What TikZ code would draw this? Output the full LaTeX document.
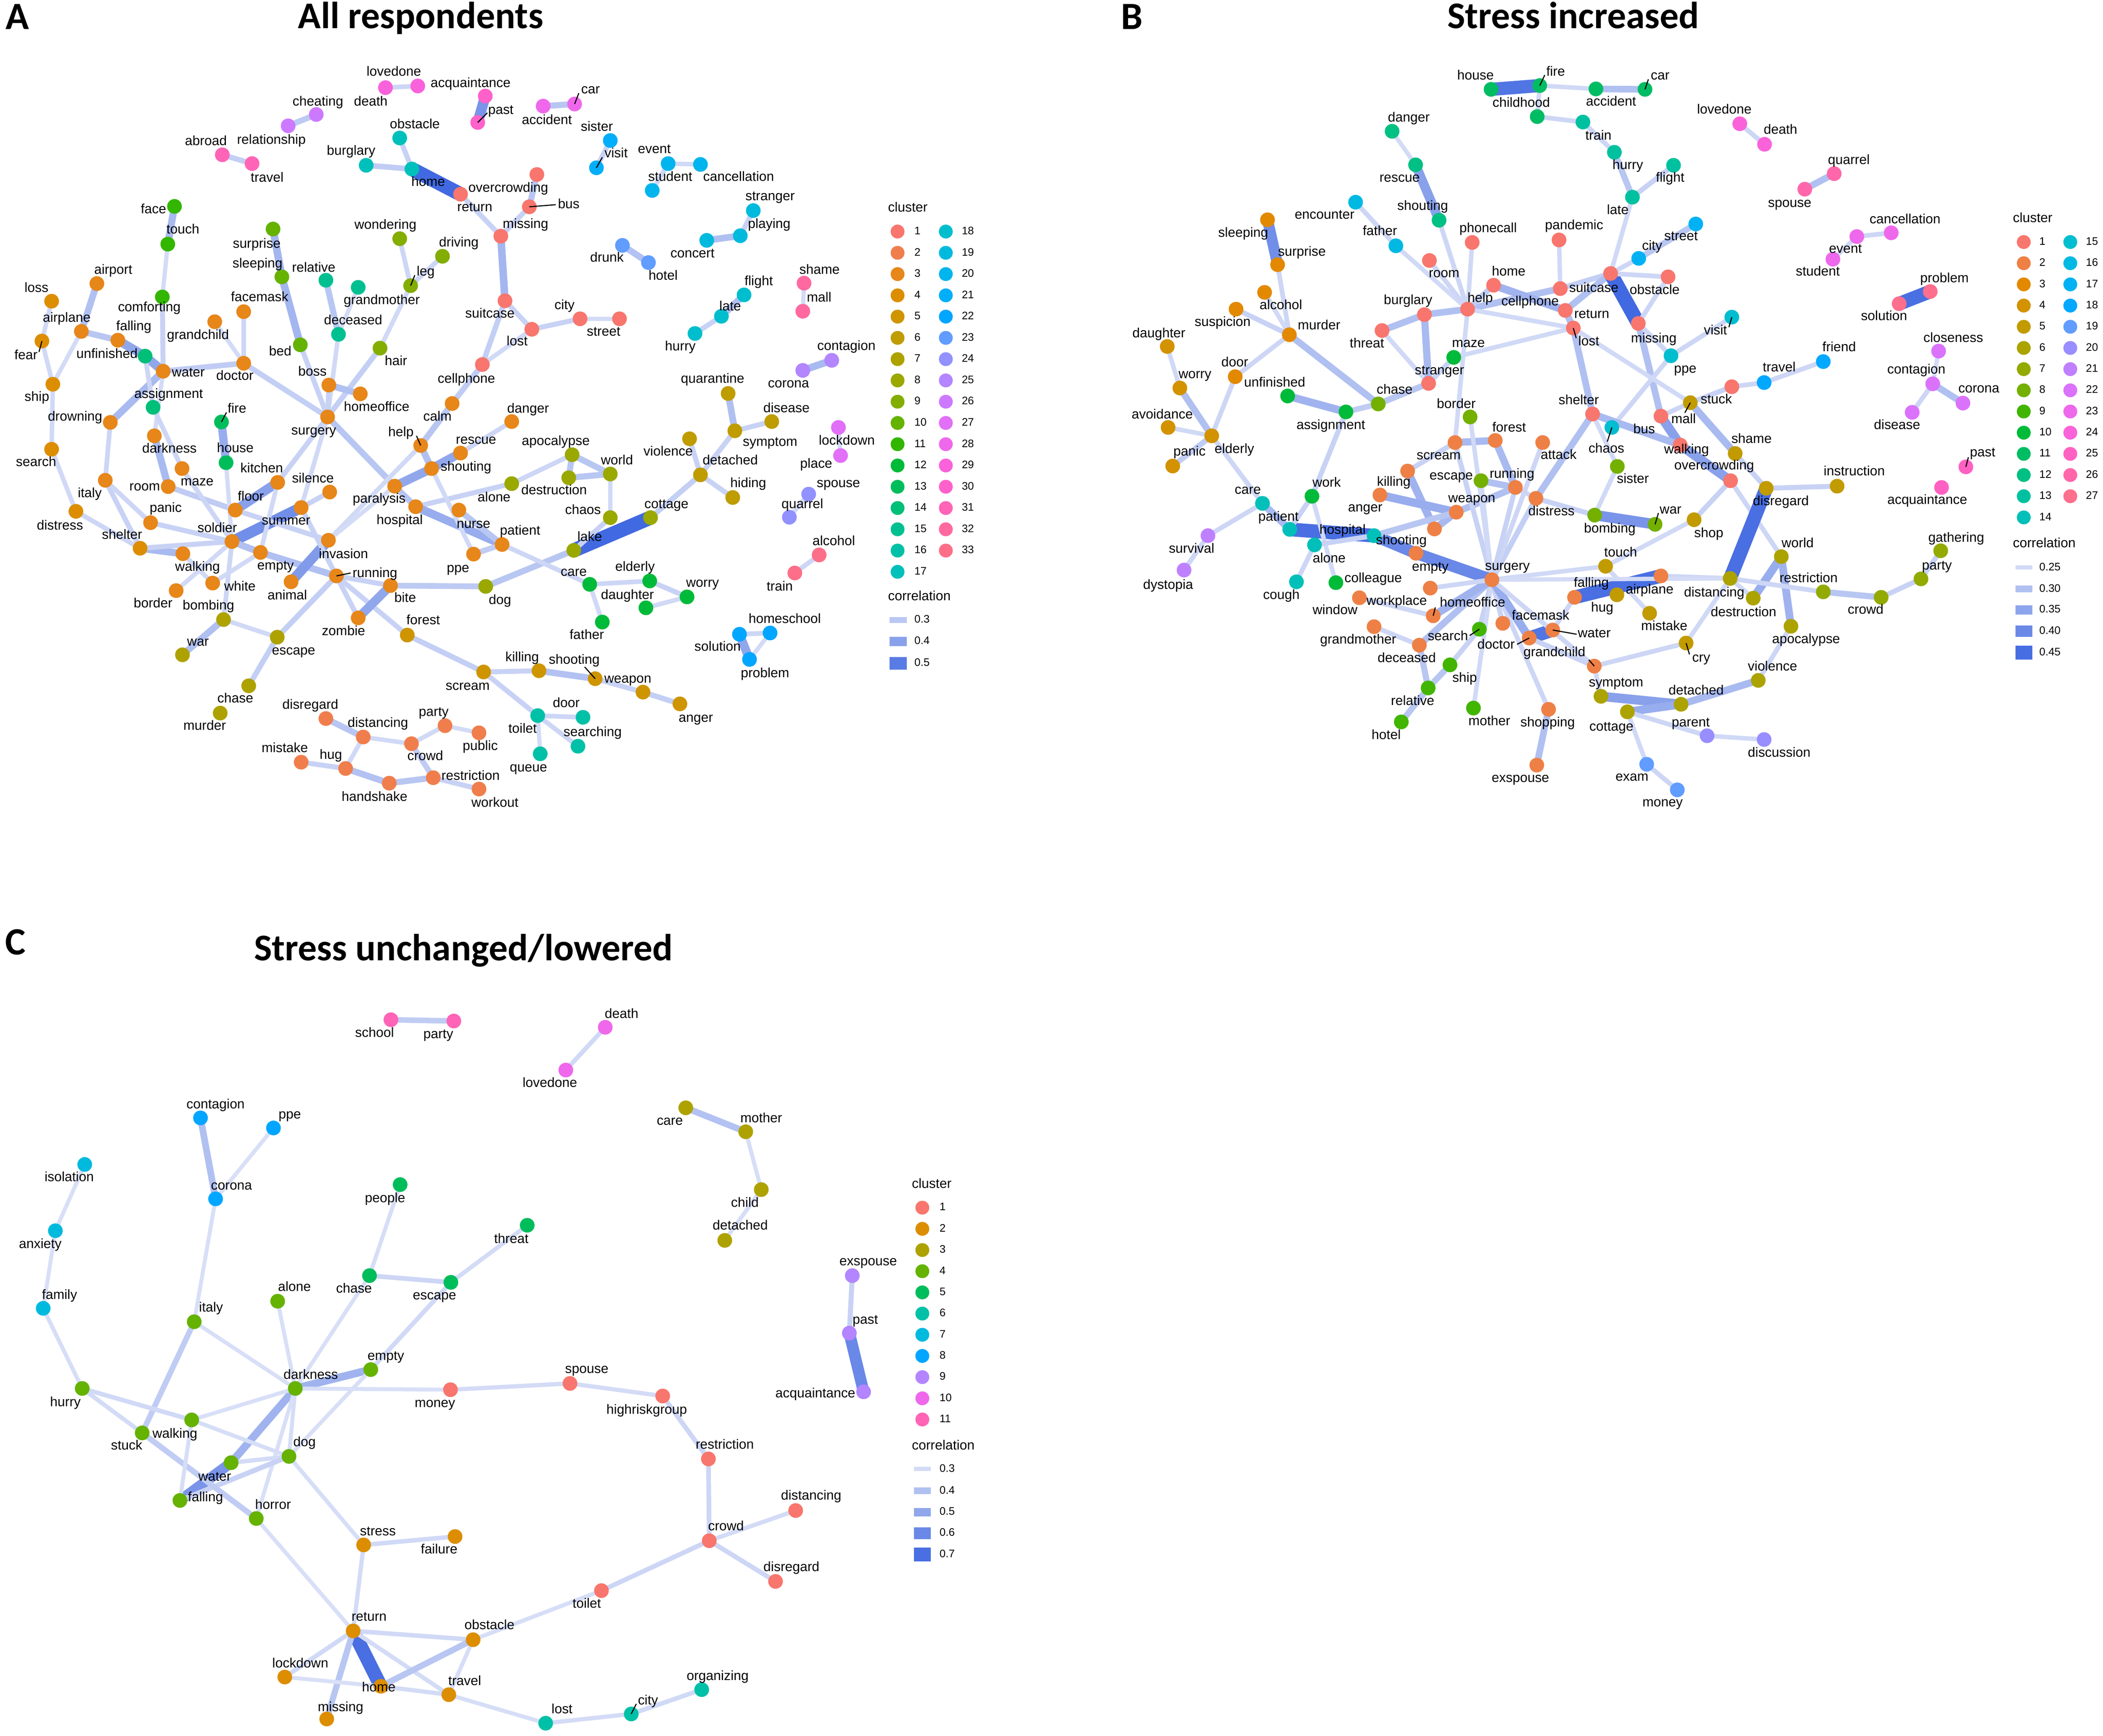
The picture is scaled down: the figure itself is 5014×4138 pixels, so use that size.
\documentclass[tikz,border=0pt]{standalone}
\usepackage{fontspec}
\setmainfont{Liberation Sans}
\newfontfamily\tfont{Carlito}
\pgfdeclarelayer{bg}\pgfsetlayers{bg,main}
\newcommand\gamc[2]{%
 \pgfmathsetmacro\tmpc{max(min(#1,1),0.0002)}%
 \pgfmathsetmacro#2{max(0,min(1,1.055*pow(\tmpc,0.4166667)-0.055))}}
\newcommand\mkhcl[2]{%
 \pgfmathsetmacro\hU{100*cos(#2)}%
 \pgfmathsetmacro\hV{100*sin(#2)}%
 \pgfmathsetmacro\uP{\hU/845+0.19784}%
 \pgfmathsetmacro\vP{\hV/845+0.46834}%
 \pgfmathsetmacro\cX{306.414*\uP/(4*\vP)}%
 \pgfmathsetmacro\cZ{34.046*(12-3*\uP-20*\vP)/(4*\vP)}%
 \pgfmathsetmacro\lR{(3.2404542*\cX-52.3334-0.4985314*\cZ)/100}%
 \pgfmathsetmacro\lG{(-0.969266*\cX+63.8707+0.041556*\cZ)/100}%
 \pgfmathsetmacro\lB{(0.0556434*\cX-6.9463+1.0572252*\cZ)/100}%
 \gamc{\lR}{\sR}\gamc{\lG}{\sG}\gamc{\lB}{\sB}%
 \edef\tmpdef{\noexpand\xglobal\noexpand\definecolor{#1}{rgb}{\sR,\sG,\sB}}\tmpdef}
\foreach \i in {1,...,33}{\mkhcl{A\i}{15+(\i-1)*360/33}}
\foreach \i in {1,...,27}{\mkhcl{B\i}{15+(\i-1)*360/27}}
\foreach \i in {1,...,11}{\mkhcl{C\i}{15+(\i-1)*360/11}}
\definecolor{elow}{HTML}{E0E5F8}
\definecolor{eblue}{HTML}{4169E1}
\tikzset{
 wdot/.style={circle,inner sep=0pt,minimum size=35pt,draw=none},
 lab/.style={inner sep=0pt,font=\fontsize{32}{32}\selectfont,text height=23pt,text depth=7pt},
 legn/.style={inner sep=0pt,anchor=west,font=\fontsize{26}{26}\selectfont,text height=19pt,text depth=5pt},
 ed/.style={draw=eblue!#1!elow,line width={8+0.26*#1}},
 ldr/.style={draw=black,line width=2.6pt},
 ttl/.style={inner sep=0pt,anchor=base,font=\tfont\bfseries\fontsize{90}{90}\selectfont},
 pletter/.style={inner sep=0pt,anchor=base west,font=\tfont\bfseries\fontsize{92}{92}\selectfont}
}
\makeatletter
\def\Labs{}
\newcommand\wa[6]{\node[wdot,fill=A#2] (a#1) at (#3,#4) {};\g@addto@macro\Labs{\node[lab] (a#1l) at (#5,#6) {#1};}}
\newcommand\wb[6]{\node[wdot,fill=B#2] (b#1) at (#3,#4) {};\g@addto@macro\Labs{\node[lab] (b#1l) at (#5,#6) {#1};}}
\newcommand\wc[6]{\node[wdot,fill=C#2] (c#1) at (#3,#4) {};\g@addto@macro\Labs{\node[lab] (c#1l) at (#5,#6) {#1};}}
\makeatother
\newcommand\ea[3]{\draw[ed=#3] (a#1.center) -- (a#2.center);}
\newcommand\eb[3]{\draw[ed=#3] (b#1.center) -- (b#2.center);}
\newcommand\ec[3]{\draw[ed=#3] (c#1.center) -- (c#2.center);}
\newcommand\lda[3]{\coordinate (a#1q) at (#2,#3);\draw[ldr] (a#1q) -- (a#1.center);}
\newcommand\ldb[3]{\coordinate (b#1q) at (#2,#3);\draw[ldr] (b#1q) -- (b#1.center);}
\newcommand\ldc[3]{\coordinate (c#1q) at (#2,#3);\draw[ldr] (c#1q) -- (c#1.center);}
\begin{document}
\begin{tikzpicture}[x=1pt,y=-1pt]
\useasboundingbox (0,0) rectangle (5014,4138);
\begin{pgfonlayer}{bg}\fill[white] (0,0) rectangle (5014,4138);\end{pgfonlayer}
% ---------------- titles
\node[pletter] (letA) at (13,70) {A};
\node[pletter] (letB) at (2673,70) {B};
\node[pletter] (letC) at (12,2276) {C};
\node[ttl] (titA) at (1003,68) {All respondents};
\node[ttl] (titB) at (3751,68) {Stress increased};
\node[ttl] (titC) at (1105,2290) {Stress unchanged/lowered};
% ================= PANEL A nodes
\wa{lovedone}{29}{996}{205}{939}{173}
\wa{death}{29}{919}{209}{884}{244}
\wa{cheating}{26}{754}{273}{758}{244}
\wa{relationship}{26}{687}{300}{647}{335}
\wa{abroad}{31}{530}{369}{491}{338}
\wa{travel}{31}{601}{390}{637}{426}
\wa{obstacle}{17}{953}{329}{989}{298}
\wa{burglary}{17}{873}{394}{837}{362}
\wa{home}{17}{982}{403}{1021}{436}
\wa{acquaintance}{30}{1157}{229}{1122}{200}
\wa{past}{30}{1139}{292}{1194}{264}
\wa{accident}{28}{1295}{253}{1304}{288}
\wa{car}{28}{1370}{248}{1408}{215}
\wa{sister}{21}{1455}{335}{1423}{304}
\wa{visit}{21}{1422}{400}{1469}{368}
\wa{event}{20}{1593}{390}{1560}{358}
\wa{cancellation}{20}{1670}{392}{1761}{424}
\wa{student}{20}{1555}{454}{1598}{424}
\wa{return}{1}{1098}{463}{1132}{496}
\wa{overcrowding}{1}{1280}{416}{1212}{450}
\wa{bus}{1}{1262}{493}{1356}{489}
\wa{missing}{1}{1194}{563}{1253}{536}
\wa{suitcase}{1}{1204}{717}{1168}{750}
\wa{lost}{1}{1268}{785}{1233}{816}
\wa{city}{1}{1383}{760}{1346}{730}
\wa{street}{1}{1477}{760}{1439}{793}
\wa{cellphone}{1}{1150}{869}{1112}{905}
\wa{driving}{9}{1055}{611}{1094}{580}
\wa{stranger}{19}{1796}{502}{1836}{470}
\wa{playing}{19}{1765}{562}{1834}{536}
\wa{concert}{19}{1685}{573}{1651}{606}
\wa{drunk}{23}{1484}{585}{1447}{616}
\wa{hotel}{23}{1546}{626}{1581}{659}
\wa{flight}{18}{1774}{703}{1809}{672}
\wa{late}{18}{1720}{754}{1741}{733}
\wa{hurry}{18}{1657}{795}{1622}{828}
\wa{shame}{32}{1917}{675}{1954}{645}
\wa{mall}{32}{1914}{742}{1953}{711}
\wa{corona}{25}{1914}{883}{1880}{916}
\wa{contagion}{25}{1983}{859}{2018}{827}
\wa{quarantine}{6}{1736}{938}{1699}{905}
\wa{symptom}{6}{1752}{1027}{1836}{1055}
\wa{disease}{6}{1840}{1005}{1875}{975}
\wa{lockdown}{27}{1999}{1019}{2019}{1052}
\wa{place}{27}{2004}{1086}{1946}{1108}
\wa{spouse}{24}{1928}{1178}{1999}{1154}
\wa{quarrel}{24}{1882}{1233}{1913}{1204}
\wa{alcohol}{33}{1953}{1323}{1988}{1292}
\wa{train}{33}{1895}{1366}{1859}{1400}
\wa{danger}{3}{1220}{1005}{1259}{976}
\wa{calm}{3}{1078}{962}{1043}{995}
\wa{rescue}{3}{1098}{1080}{1135}{1050}
\wa{shouting}{3}{1029}{1117}{1111}{1115}
\wa{help}{3}{1003}{1062}{956}{1032}
\wa{apocalypse}{8}{1364}{1084}{1325}{1053}
\wa{world}{8}{1455}{1130}{1471}{1100}
\wa{destruction}{8}{1356}{1139}{1321}{1171}
\wa{alone}{8}{1220}{1153}{1178}{1188}
\wa{nurse}{3}{1094}{1216}{1129}{1251}
\wa{patient}{3}{1197}{1298}{1240}{1267}
\wa{ppe}{3}{1129}{1321}{1092}{1356}
\wa{chaos}{8}{1455}{1234}{1390}{1218}
\wa{lake}{8}{1368}{1312}{1406}{1282}
\wa{cottage}{8}{1551}{1234}{1589}{1204}
\wa{violence}{6}{1644}{1046}{1593}{1079}
\wa{detached}{6}{1670}{1132}{1741}{1100}
\wa{hiding}{6}{1747}{1186}{1784}{1154}
\wa{care}{12}{1406}{1393}{1368}{1365}
\wa{elderly}{12}{1549}{1385}{1514}{1353}
\wa{daughter}{12}{1540}{1449}{1496}{1420}
\wa{worry}{12}{1638}{1423}{1675}{1391}
\wa{father}{12}{1436}{1483}{1399}{1516}
\wa{dog}{8}{1158}{1398}{1192}{1433}
\wa{homeschool}{22}{1836}{1509}{1871}{1478}
\wa{solution}{22}{1763}{1512}{1711}{1544}
\wa{problem}{22}{1787}{1572}{1824}{1607}
\wa{scream}{5}{1153}{1602}{1115}{1637}
\wa{killing}{5}{1285}{1599}{1245}{1569}
\wa{shooting}{5}{1419}{1618}{1369}{1575}
\wa{weapon}{5}{1533}{1650}{1497}{1620}
\wa{anger}{5}{1621}{1678}{1659}{1713}
\wa{toilet}{16}{1282}{1706}{1246}{1739}
\wa{door}{16}{1390}{1710}{1350}{1678}
\wa{searching}{16}{1378}{1779}{1413}{1747}
\wa{queue}{16}{1288}{1797}{1260}{1832}
\wa{party}{2}{1061}{1730}{1034}{1699}
\wa{public}{2}{1142}{1747}{1145}{1780}
\wa{restriction}{2}{1033}{1854}{1122}{1852}
\wa{workout}{2}{1142}{1881}{1180}{1916}
\wa{disregard}{2}{777}{1713}{740}{1682}
\wa{distancing}{2}{866}{1757}{901}{1725}
\wa{crowd}{2}{981}{1773}{1014}{1805}
\wa{mistake}{2}{718}{1817}{679}{1785}
\wa{hug}{2}{824}{1832}{789}{1802}
\wa{handshake}{2}{928}{1867}{893}{1902}
\wa{face}{11}{416}{492}{366}{501}
\wa{touch}{11}{400}{582}{436}{549}
\wa{comforting}{11}{387}{708}{356}{735}
\wa{surprise}{10}{651}{546}{612}{583}
\wa{sleeping}{10}{672}{660}{614}{630}
\wa{bed}{10}{716}{822}{668}{840}
\wa{relative}{15}{777}{668}{748}{640}
\wa{grandmother}{15}{854}{685}{910}{718}
\wa{deceased}{15}{807}{797}{842}{766}
\wa{wondering}{9}{953}{569}{919}{538}
\wa{leg}{9}{979}{681}{1015}{649}
\wa{hair}{9}{906}{830}{944}{863}
\wa{airport}{3}{231}{676}{270}{645}
\wa{loss}{4}{123}{718}{87}{688}
\wa{airplane}{3}{194}{790}{159}{760}
\wa{fear}{4}{100}{813}{62}{849}
\wa{falling}{3}{281}{811}{319}{780}
\wa{unfinished}{14}{346}{849}{255}{846}
\wa{water}{3}{389}{885}{449}{890}
\wa{grandchild}{3}{512}{767}{472}{801}
\wa{facemask}{3}{581}{743}{619}{710}
\wa{doctor}{3}{581}{866}{560}{898}
\wa{ship}{4}{126}{916}{88}{948}
\wa{boss}{3}{784}{918}{745}{888}
\wa{homeoffice}{3}{859}{939}{898}{972}
\wa{assignment}{14}{365}{971}{402}{941}
\wa{drowning}{3}{263}{1007}{179}{995}
\wa{fire}{13}{528}{1006}{565}{976}
\wa{surgery}{3}{781}{994}{748}{1028}
\wa{search}{4}{123}{1071}{86}{1104}
\wa{italy}{3}{251}{1145}{214}{1178}
\wa{distress}{4}{181}{1219}{143}{1255}
\wa{darkness}{3}{368}{1039}{404}{1071}
\wa{maze}{3}{434}{1117}{470}{1150}
\wa{room}{3}{401}{1160}{345}{1162}
\wa{house}{13}{539}{1103}{561}{1070}
\wa{kitchen}{3}{662}{1150}{624}{1119}
\wa{silence}{3}{786}{1173}{746}{1143}
\wa{floor}{3}{561}{1216}{598}{1186}
\wa{summer}{3}{718}{1210}{682}{1243}
\wa{panic}{3}{359}{1246}{395}{1213}
\wa{soldier}{3}{553}{1291}{518}{1261}
\wa{shelter}{4}{334}{1307}{291}{1277}
\wa{walking}{3}{436}{1320}{471}{1353}
\wa{empty}{3}{621}{1317}{657}{1350}
\wa{invasion}{3}{783}{1288}{819}{1323}
\wa{running}{3}{802}{1373}{894}{1368}
\wa{bite}{3}{931}{1396}{966}{1427}
\wa{animal}{3}{694}{1387}{685}{1421}
\wa{white}{3}{507}{1390}{572}{1400}
\wa{border}{3}{420}{1408}{365}{1441}
\wa{zombie}{3}{854}{1473}{819}{1507}
\wa{forest}{5}{971}{1514}{1009}{1481}
\wa{bombing}{7}{533}{1477}{497}{1446}
\wa{war}{7}{435}{1561}{472}{1532}
\wa{escape}{7}{661}{1519}{700}{1553}
\wa{chase}{7}{593}{1635}{561}{1667}
\wa{murder}{7}{525}{1700}{488}{1732}
\wa{paralysis}{3}{941}{1159}{904}{1191}
\wa{hospital}{3}{991}{1208}{953}{1242}
% ---- panel A edges
\begin{pgfonlayer}{bg}
\ea{death}{lovedone}{12}\ea{cheating}{relationship}{22}\ea{abroad}{travel}{18}
\ea{acquaintance}{past}{65}\ea{accident}{car}{25}\ea{sister}{visit}{15}
\ea{event}{cancellation}{10}\ea{event}{student}{12}
\ea{obstacle}{home}{15}\ea{burglary}{home}{20}\ea{home}{return}{100}
\ea{return}{missing}{15}\ea{overcrowding}{bus}{25}\ea{bus}{missing}{15}\ea{missing}{suitcase}{38}
\ea{suitcase}{lost}{15}\ea{lost}{city}{15}\ea{city}{street}{8}\ea{suitcase}{cellphone}{18}
\ea{lost}{cellphone}{10}\ea{cellphone}{calm}{20}
\ea{calm}{help}{25}\ea{help}{shouting}{30}\ea{paralysis}{shouting}{50}\ea{shouting}{rescue}{50}\ea{danger}{rescue}{12}
\ea{driving}{leg}{12}\ea{wondering}{leg}{12}\ea{leg}{hair}{10}\ea{hair}{surgery}{18}
\ea{stranger}{playing}{15}\ea{playing}{concert}{30}\ea{drunk}{hotel}{28}\ea{flight}{late}{30}
\ea{late}{hurry}{15}\ea{shame}{mall}{8}\ea{corona}{contagion}{35}
\ea{quarantine}{symptom}{30}\ea{symptom}{disease}{15}\ea{symptom}{detached}{15}\ea{violence}{detached}{15}
\ea{detached}{hiding}{15}\ea{detached}{cottage}{18}\ea{lockdown}{place}{8}\ea{spouse}{quarrel}{10}\ea{alcohol}{train}{12}
\ea{lake}{cottage}{100}\ea{lake}{chaos}{15}\ea{chaos}{world}{10}\ea{world}{destruction}{25}\ea{world}{apocalypse}{25}
\ea{apocalypse}{destruction}{25}\ea{apocalypse}{alone}{12}\ea{alone}{hospital}{15}\ea{lake}{dog}{25}\ea{dog}{bite}{22}
\ea{hospital}{patient}{45}\ea{nurse}{patient}{25}\ea{ppe}{patient}{20}\ea{patient}{care}{12}\ea{shouting}{ppe}{10}
\ea{surgery}{paralysis}{25}\ea{paralysis}{hospital}{25}
\ea{care}{elderly}{12}\ea{care}{father}{10}\ea{elderly}{worry}{15}\ea{daughter}{worry}{10}
\ea{homeschool}{solution}{12}\ea{solution}{problem}{50}\ea{homeschool}{problem}{8}
\ea{scream}{killing}{15}\ea{killing}{shooting}{28}\ea{shooting}{weapon}{15}\ea{weapon}{anger}{18}
\ea{scream}{toilet}{15}\ea{toilet}{door}{12}\ea{toilet}{searching}{12}\ea{toilet}{queue}{8}
\ea{forest}{scream}{18}\ea{running}{forest}{15}
\ea{disregard}{distancing}{25}\ea{distancing}{crowd}{10}\ea{distancing}{hug}{10}\ea{mistake}{hug}{15}
\ea{hug}{handshake}{28}\ea{handshake}{restriction}{25}\ea{restriction}{crowd}{20}\ea{crowd}{party}{10}
\ea{party}{public}{8}\ea{restriction}{workout}{15}
\ea{face}{touch}{35}\ea{touch}{comforting}{8}\ea{comforting}{water}{15}\ea{airport}{airplane}{30}
\ea{loss}{fear}{10}\ea{airplane}{falling}{25}\ea{falling}{unfinished}{50}\ea{unfinished}{water}{50}
\ea{airplane}{ship}{8}\ea{fear}{ship}{10}\ea{ship}{search}{10}\ea{search}{distress}{10}
\ea{water}{doctor}{20}\ea{doctor}{facemask}{12}\ea{doctor}{grandchild}{8}\ea{doctor}{surgery}{18}
\ea{water}{drowning}{35}\ea{unfinished}{assignment}{12}\ea{water}{darkness}{8}\ea{assignment}{maze}{12}
\ea{surprise}{sleeping}{38}\ea{sleeping}{bed}{38}\ea{relative}{deceased}{25}\ea{grandmother}{deceased}{8}
\ea{deceased}{surgery}{10}\ea{bed}{surgery}{15}\ea{boss}{surgery}{15}\ea{boss}{homeoffice}{30}
\ea{surgery}{kitchen}{15}\ea{surgery}{summer}{10}
\ea{drowning}{italy}{12}\ea{italy}{shelter}{15}\ea{distress}{shelter}{12}\ea{darkness}{room}{35}
\ea{room}{floor}{20}\ea{floor}{kitchen}{55}\ea{maze}{soldier}{12}\ea{italy}{panic}{12}\ea{panic}{soldier}{15}
\ea{shelter}{walking}{35}\ea{shelter}{soldier}{15}\ea{walking}{white}{10}\ea{soldier}{summer}{70}
\ea{summer}{silence}{15}\ea{soldier}{empty}{30}\ea{empty}{running}{30}\ea{soldier}{border}{10}
\ea{soldier}{bombing}{12}\ea{fire}{house}{45}\ea{house}{soldier}{8}
\ea{floor}{invasion}{15}\ea{empty}{white}{10}\ea{kitchen}{empty}{10}\ea{animal}{invasion}{60}
\ea{summer}{running}{15}\ea{invasion}{help}{10}\ea{running}{bite}{15}\ea{running}{zombie}{15}
\ea{bite}{zombie}{50}\ea{running}{escape}{18}\ea{escape}{bombing}{10}\ea{bombing}{war}{30}
\ea{escape}{chase}{18}\ea{invasion}{paralysis}{8}
\end{pgfonlayer}
% ---- panel A legend
\node[lab,anchor=west] (aLegC) at (2117,497) {cluster};
\foreach \i in {1,...,17}{\node[wdot,minimum size=33pt,fill=A\i] (aLeg\i) at (2140,{552+(\i-1)*50.7}) {};
 \node[legn] (aLegT\i) at (2180,{552+(\i-1)*50.7}) {\i};}
\foreach \i in {18,...,33}{\node[wdot,minimum size=33pt,fill=A\i] (aLeg\i) at (2255,{552+(\i-18)*50.7}) {};
 \node[legn] (aLegT\i) at (2293,{552+(\i-18)*50.7}) {\i};}
\node[lab,anchor=west] (aLegR) at (2117,1423) {correlation};
\draw[ed=24] (2121,1478) -- (2162,1478); \node[legn] (aLegR1) at (2180,1478) {0.3};
\draw[ed=55] (2121,1529) -- (2162,1529); \node[legn] (aLegR2) at (2180,1529) {0.4};
\draw[ed=85] (2121,1581) -- (2162,1581); \node[legn] (aLegR3) at (2180,1581) {0.5};
% ================= PANEL B nodes
\wb{house}{11}{3555}{213}{3518}{182}
\wb{fire}{11}{3671}{204}{3709}{173}
\wb{childhood}{11}{3665}{278}{3627}{247}
\wb{accident}{11}{3805}{212}{3841}{244}
\wb{car}{11}{3922}{213}{3958}{182}
\wb{train}{13}{3774}{291}{3811}{325}
\wb{hurry}{13}{3849}{363}{3881}{396}
\wb{flight}{13}{3990}{394}{3982}{426}
\wb{late}{13}{3892}{470}{3857}{503}
\wb{lovedone}{24}{4148}{295}{4111}{263}
\wb{death}{24}{4207}{344}{4245}{311}
\wb{quarrel}{26}{4373}{414}{4408}{384}
\wb{spouse}{26}{4303}{451}{4267}{486}
\wb{cancellation}{23}{4509}{555}{4542}{525}
\wb{event}{23}{4427}{564}{4400}{595}
\wb{student}{23}{4370}{618}{4334}{649}
\wb{problem}{27}{4602}{695}{4636}{665}
\wb{solution}{27}{4528}{724}{4492}{756}
\wb{closeness}{22}{4622}{837}{4657}{808}
\wb{contagion}{22}{4608}{915}{4569}{883}
\wb{corona}{22}{4680}{961}{4718}{928}
\wb{disease}{22}{4559}{983}{4523}{1015}
\wb{danger}{12}{3319}{313}{3359}{282}
\wb{rescue}{12}{3375}{393}{3337}{426}
\wb{shouting}{12}{3431}{525}{3392}{493}
\wb{encounter}{16}{3232}{482}{3158}{514}
\wb{father}{16}{3328}{586}{3290}{553}
\wb{sleeping}{3}{3022}{524}{2964}{557}
\wb{surprise}{3}{3046}{631}{3104}{602}
\wb{alcohol}{3}{3015}{697}{3054}{730}
\wb{suspicion}{3}{2947}{737}{2915}{770}
\wb{murder}{3}{3074}{798}{3145}{778}
\wb{daughter}{4}{2783}{826}{2763}{797}
\wb{door}{3}{2945}{898}{2944}{866}
\wb{worry}{4}{2813}{925}{2849}{894}
\wb{unfinished}{10}{3070}{944}{3039}{914}
\wb{assignment}{10}{3209}{982}{3173}{1015}
\wb{chase}{8}{3286}{963}{3325}{931}
\wb{avoidance}{4}{2785}{1019}{2771}{990}
\wb{stranger}{1}{3406}{914}{3432}{885}
\wb{maze}{10}{3466}{852}{3501}{820}
\wb{threat}{1}{3295}{788}{3259}{821}
\wb{burglary}{1}{3396}{750}{3357}{718}
\wb{help}{1}{3499}{737}{3529}{713}
\wb{room}{1}{3408}{621}{3443}{653}
\wb{phonecall}{1}{3510}{578}{3548}{546}
\wb{home}{1}{3561}{680}{3597}{649}
\wb{pandemic}{1}{3717}{572}{3753}{539}
\wb{cellphone}{1}{3720}{688}{3648}{721}
\wb{return}{1}{3732}{740}{3795}{751}
\wb{lost}{1}{3751}{782}{3788}{816}
\wb{suitcase}{1}{3840}{652}{3800}{688}
\wb{obstacle}{1}{3977}{660}{3945}{693}
\wb{city}{17}{3907}{616}{3939}{588}
\wb{street}{17}{4043}{534}{4008}{565}
\wb{missing}{1}{3906}{771}{3943}{809}
\wb{visit}{15}{4129}{756}{4090}{790}
\wb{ppe}{15}{3984}{848}{4018}{881}
\wb{friend}{18}{4347}{862}{4385}{830}
\wb{travel}{18}{4206}{912}{4242}{878}
\wb{stuck}{1}{4129}{922}{4092}{954}
\wb{mall}{5}{4030}{960}{4014}{1001}
\wb{border}{8}{3505}{994}{3472}{965}
\wb{bus}{1}{3960}{992}{3920}{1025}
\wb{shelter}{1}{3797}{987}{3764}{956}
\wb{chaos}{15}{3843}{1019}{3830}{1071}
\wb{walking}{1}{4006}{1061}{4021}{1074}
\wb{shame}{5}{4137}{1081}{4176}{1048}
\wb{overcrowding}{1}{4126}{1146}{4087}{1112}
\wb{sister}{8}{3856}{1112}{3893}{1144}
\wb{disregard}{5}{4211}{1164}{4246}{1197}
\wb{instruction}{5}{4380}{1159}{4421}{1126}
\wb{past}{25}{4687}{1113}{4727}{1081}
\wb{acquaintance}{25}{4629}{1162}{4595}{1194}
\wb{elderly}{4}{2889}{1039}{2943}{1073}
\wb{panic}{4}{2796}{1111}{2836}{1079}
\wb{care}{14}{3010}{1200}{2975}{1170}
\wb{work}{10}{3128}{1183}{3163}{1153}
\wb{killing}{2}{3356}{1123}{3323}{1151}
\wb{scream}{2}{3469}{1055}{3430}{1088}
\wb{forest}{2}{3565}{1050}{3598}{1021}
\wb{attack}{2}{3678}{1055}{3716}{1087}
\wb{escape}{8}{3531}{1146}{3460}{1136}
\wb{running}{2}{3613}{1162}{3605}{1132}
\wb{distress}{2}{3662}{1188}{3699}{1221}
\wb{anger}{2}{3290}{1180}{3255}{1212}
\wb{weapon}{2}{3472}{1221}{3509}{1190}
\wb{shooting}{2}{3420}{1261}{3341}{1290}
\wb{patient}{14}{3075}{1262}{3048}{1234}
\wb{hospital}{14}{3276}{1277}{3201}{1265}
\wb{alone}{14}{3134}{1299}{3169}{1333}
\wb{survival}{21}{2880}{1277}{2841}{1310}
\wb{dystopia}{21}{2823}{1359}{2785}{1396}
\wb{empty}{2}{3376}{1319}{3410}{1353}
\wb{surgery}{2}{3557}{1382}{3594}{1351}
\wb{cough}{14}{3091}{1387}{3055}{1420}
\wb{colleague}{10}{3185}{1389}{3274}{1380}
\wb{window}{2}{3241}{1425}{3183}{1457}
\wb{workplace}{2}{3410}{1402}{3330}{1435}
\wb{homeoffice}{2}{3417}{1468}{3511}{1439}
\wb{grandmother}{2}{3276}{1494}{3238}{1527}
\wb{deceased}{2}{3384}{1538}{3354}{1571}
\wb{search}{9}{3527}{1500}{3452}{1519}
\wb{facemask}{2}{3583}{1486}{3673}{1470}
\wb{doctor}{2}{3646}{1521}{3567}{1539}
\wb{water}{2}{3702}{1502}{3801}{1512}
\wb{grandchild}{2}{3801}{1588}{3706}{1557}
\wb{ship}{9}{3457}{1585}{3492}{1618}
\wb{relative}{9}{3405}{1640}{3368}{1673}
\wb{hotel}{9}{3341}{1721}{3305}{1754}
\wb{mother}{9}{3513}{1688}{3551}{1721}
\wb{shopping}{2}{3692}{1691}{3690}{1724}
\wb{exspouse}{2}{3664}{1824}{3625}{1857}
\wb{bombing}{8}{3802}{1228}{3838}{1262}
\wb{war}{8}{3946}{1250}{3983}{1217}
\wb{shop}{5}{4039}{1239}{4074}{1273}
\wb{world}{6}{4247}{1327}{4286}{1297}
\wb{touch}{5}{3828}{1350}{3864}{1319}
\wb{gathering}{7}{4627}{1313}{4664}{1284}
\wb{party}{7}{4580}{1380}{4618}{1350}
\wb{airplane}{2}{3960}{1373}{3933}{1407}
\wb{falling}{2}{3754}{1424}{3794}{1391}
\wb{hug}{5}{3855}{1418}{3820}{1451}
\wb{distancing}{6}{4125}{1379}{4087}{1414}
\wb{restriction}{7}{4347}{1411}{4312}{1380}
\wb{destruction}{6}{4180}{1426}{4157}{1462}
\wb{crowd}{7}{4485}{1424}{4448}{1456}
\wb{mistake}{5}{3933}{1462}{3968}{1495}
\wb{apocalypse}{6}{4270}{1493}{4306}{1526}
\wb{cry}{5}{4020}{1533}{4056}{1570}
\wb{violence}{6}{4192}{1622}{4226}{1591}
\wb{symptom}{6}{3817}{1660}{3853}{1629}
\wb{detached}{6}{4008}{1679}{4044}{1648}
\wb{cottage}{6}{3880}{1697}{3842}{1734}
\wb{parent}{20}{4070}{1754}{4031}{1724}
\wb{discussion}{20}{4206}{1763}{4242}{1797}
\wb{exam}{19}{3926}{1822}{3891}{1854}
\wb{money}{19}{3999}{1883}{3964}{1915}
% ---- panel B edges
\begin{pgfonlayer}{bg}
\eb{house}{fire}{90}\eb{fire}{childhood}{10}\eb{fire}{accident}{10}\eb{accident}{car}{30}
\eb{childhood}{train}{12}\eb{train}{hurry}{12}\eb{hurry}{late}{25}\eb{late}{flight}{15}\eb{late}{suitcase}{10}
\eb{lovedone}{death}{12}\eb{spouse}{quarrel}{30}\eb{event}{cancellation}{12}\eb{event}{student}{10}\eb{problem}{solution}{95}
\eb{closeness}{contagion}{8}\eb{contagion}{corona}{30}\eb{contagion}{disease}{12}
\eb{danger}{rescue}{8}\eb{rescue}{shouting}{55}\eb{shouting}{help}{12}\eb{encounter}{father}{12}\eb{father}{help}{10}
\eb{room}{help}{12}\eb{phonecall}{help}{10}
\eb{sleeping}{surprise}{70}\eb{surprise}{murder}{12}\eb{alcohol}{murder}{10}\eb{suspicion}{murder}{15}
\eb{murder}{door}{12}\eb{murder}{chase}{30}
\eb{daughter}{worry}{10}\eb{worry}{elderly}{30}\eb{door}{elderly}{12}\eb{avoidance}{elderly}{10}\eb{panic}{elderly}{20}\eb{elderly}{care}{12}
\eb{unfinished}{assignment}{40}\eb{assignment}{chase}{20}\eb{assignment}{work}{15}\eb{chase}{stranger}{25}
\eb{stranger}{maze}{15}\eb{threat}{stranger}{10}\eb{burglary}{threat}{30}\eb{burglary}{help}{30}\eb{burglary}{stranger}{35}\eb{maze}{lost}{10}
\eb{help}{cellphone}{30}\eb{home}{return}{40}\eb{help}{home}{20}\eb{pandemic}{cellphone}{10}\eb{cellphone}{suitcase}{18}
\eb{return}{suitcase}{30}\eb{return}{lost}{30}\eb{suitcase}{missing}{100}\eb{suitcase}{city}{12}\eb{city}{street}{25}
\eb{suitcase}{obstacle}{12}\eb{obstacle}{missing}{12}\eb{help}{lost}{10}\eb{help}{scream}{10}
\eb{lost}{shelter}{30}\eb{missing}{bus}{30}\eb{missing}{ppe}{12}\eb{ppe}{visit}{12}\eb{ppe}{chaos}{12}
\eb{bus}{walking}{55}\eb{walking}{overcrowding}{55}\eb{shelter}{walking}{35}
\eb{mall}{stuck}{15}\eb{stuck}{travel}{12}\eb{travel}{friend}{12}\eb{bus}{mall}{12}\eb{mall}{shame}{35}\eb{lost}{mall}{10}
\eb{shame}{disregard}{15}\eb{overcrowding}{world}{12}\eb{overcrowding}{shop}{15}\eb{disregard}{instruction}{15}
\eb{disregard}{distancing}{95}\eb{distancing}{airplane}{12}\eb{destruction}{world}{45}\eb{world}{apocalypse}{40}
\eb{distancing}{restriction}{12}\eb{restriction}{crowd}{25}\eb{crowd}{party}{15}\eb{party}{gathering}{15}
\eb{apocalypse}{violence}{12}\eb{violence}{detached}{35}\eb{detached}{symptom}{55}\eb{detached}{cottage}{45}
\eb{symptom}{grandchild}{10}\eb{cottage}{parent}{12}\eb{parent}{discussion}{10}\eb{cottage}{exam}{10}\eb{exam}{money}{12}
\eb{cry}{grandchild}{12}\eb{cry}{distancing}{10}\eb{destruction}{distancing}{10}
\eb{touch}{shop}{10}\eb{touch}{surgery}{10}\eb{touch}{mistake}{10}\eb{falling}{airplane}{95}\eb{falling}{water}{12}
\eb{sister}{shelter}{10}\eb{sister}{bombing}{10}\eb{bombing}{war}{65}\eb{distress}{bombing}{15}\eb{shelter}{distress}{30}
\eb{distress}{surgery}{18}\eb{attack}{surgery}{12}\eb{running}{distress}{12}
\eb{scream}{forest}{35}\eb{forest}{running}{35}\eb{escape}{running}{30}\eb{running}{weapon}{30}\eb{scream}{killing}{15}
\eb{killing}{shooting}{40}\eb{weapon}{shooting}{35}\eb{anger}{weapon}{45}\eb{scream}{surgery}{15}\eb{running}{surgery}{15}
\eb{escape}{surgery}{10}\eb{border}{surgery}{10}
\eb{care}{patient}{35}\eb{patient}{hospital}{95}\eb{hospital}{empty}{75}\eb{empty}{surgery}{75}
\eb{care}{survival}{12}\eb{survival}{dystopia}{12}\eb{hospital}{weapon}{25}\eb{work}{patient}{15}\eb{work}{colleague}{10}
\eb{alone}{hospital}{15}\eb{alone}{cough}{12}\eb{window}{homeoffice}{12}\eb{grandmother}{deceased}{12}
\eb{deceased}{relative}{25}\eb{relative}{hotel}{25}\eb{relative}{ship}{25}\eb{ship}{search}{15}\eb{search}{surgery}{15}
\eb{mother}{surgery}{10}\eb{shopping}{surgery}{12}\eb{shopping}{exspouse}{30}\eb{deceased}{surgery}{30}
\eb{homeoffice}{surgery}{40}\eb{workplace}{surgery}{12}\eb{surgery}{facemask}{15}\eb{surgery}{doctor}{45}
\eb{doctor}{water}{90}\eb{grandchild}{doctor}{15}\eb{surgery}{grandchild}{12}\eb{surgery}{distancing}{8}
\end{pgfonlayer}
% ---- panel B legend
\node[lab,anchor=west] (bLegC) at (4799,522) {cluster};
\foreach \i in {1,...,14}{\node[wdot,minimum size=33pt,fill=B\i] (bLeg\i) at (4825,{577+(\i-1)*50.5}) {};
 \node[legn] (bLegT\i) at (4862,{577+(\i-1)*50.5}) {\i};}
\foreach \i in {15,...,27}{\node[wdot,minimum size=33pt,fill=B\i] (bLeg\i) at (4936,{577+(\i-15)*50.5}) {};
 \node[legn] (bLegT\i) at (4973,{577+(\i-15)*50.5}) {\i};}
\node[lab,anchor=west] (bLegR) at (4799,1297) {correlation};
\draw[ed=9] (4805,1353) -- (4845,1353); \node[legn] (bLegR1) at (4862,1353) {0.25};
\draw[ed=30] (4805,1404) -- (4845,1404); \node[legn] (bLegR2) at (4862,1404) {0.30};
\draw[ed=52] (4805,1454) -- (4845,1454); \node[legn] (bLegR3) at (4862,1454) {0.35};
\draw[ed=74] (4805,1505) -- (4845,1505); \node[legn] (bLegR4) at (4862,1505) {0.40};
\draw[ed=96] (4805,1556) -- (4845,1556); \node[legn] (bLegR5) at (4862,1556) {0.45};
% ================= PANEL C nodes
\wc{school}{11}{932}{2431}{893}{2464}
\wc{party}{11}{1082}{2434}{1045}{2467}
\wc{contagion}{8}{478}{2665}{514}{2635}
\wc{ppe}{8}{652}{2689}{691}{2659}
\wc{corona}{8}{514}{2858}{552}{2828}
\wc{isolation}{7}{202}{2776}{165}{2808}
\wc{anxiety}{7}{132}{2934}{96}{2968}
\wc{family}{7}{103}{3119}{142}{3089}
\wc{people}{5}{954}{2824}{918}{2858}
\wc{chase}{5}{881}{3041}{844}{3074}
\wc{escape}{5}{1075}{3057}{1036}{3090}
\wc{alone}{4}{662}{3102}{702}{3070}
\wc{italy}{4}{463}{3151}{503}{3119}
\wc{empty}{4}{884}{3265}{920}{3235}
\wc{darkness}{4}{704}{3310}{741}{3280}
\wc{money}{1}{1074}{3313}{1037}{3347}
\wc{hurry}{4}{196}{3310}{156}{3345}
\wc{walking}{4}{457}{3385}{417}{3420}
\wc{stuck}{4}{339}{3416}{302}{3448}
\wc{dog}{4}{689}{3472}{726}{3440}
\wc{water}{4}{551}{3487}{512}{3522}
\wc{falling}{4}{429}{3577}{490}{3571}
\wc{horror}{4}{611}{3620}{651}{3589}
\wc{stress}{2}{867}{3683}{901}{3653}
\wc{failure}{2}{1085}{3663}{1047}{3696}
\wc{return}{2}{842}{3888}{880}{3856}
\wc{lockdown}{2}{679}{3998}{716}{3968}
\wc{home}{2}{908}{4020}{903}{4025}
\wc{missing}{2}{779}{4098}{812}{4072}
\wc{travel}{2}{1070}{4040}{1108}{4010}
\wc{death}{10}{1443}{2449}{1482}{2419}
\wc{lovedone}{10}{1349}{2551}{1311}{2584}
\wc{care}{3}{1635}{2641}{1597}{2674}
\wc{mother}{3}{1778}{2698}{1815}{2668}
\wc{child}{3}{1815}{2836}{1776}{2869}
\wc{detached}{3}{1728}{2957}{1765}{2924}
\wc{threat}{5}{1257}{2921}{1219}{2956}
\wc{exspouse}{9}{2032}{3041}{2070}{3009}
\wc{past}{9}{2025}{3178}{2063}{3148}
\wc{acquaintance}{9}{2059}{3318}{1944}{3324}
\wc{spouse}{1}{1359}{3298}{1399}{3266}
\wc{highriskgroup}{1}{1580}{3328}{1542}{3363}
\wc{restriction}{1}{1689}{3478}{1728}{3446}
\wc{distancing}{1}{1897}{3601}{1934}{3567}
\wc{crowd}{1}{1691}{3673}{1731}{3641}
\wc{disregard}{1}{1849}{3770}{1887}{3738}
\wc{toilet}{1}{1434}{3792}{1399}{3825}
\wc{obstacle}{2}{1128}{3909}{1167}{3876}
\wc{lost}{6}{1301}{4108}{1340}{4077}
\wc{city}{6}{1505}{4086}{1545}{4056}
\wc{organizing}{6}{1673}{4028}{1711}{3998}
% ---- panel C edges
\begin{pgfonlayer}{bg}
\ec{school}{party}{20}\ec{contagion}{corona}{30}\ec{corona}{ppe}{5}\ec{isolation}{anxiety}{5}
\ec{anxiety}{family}{5}\ec{family}{hurry}{6}\ec{corona}{italy}{5}\ec{italy}{stuck}{20}\ec{italy}{darkness}{5}
\ec{alone}{darkness}{5}\ec{chase}{people}{6}\ec{chase}{escape}{12}\ec{chase}{darkness}{5}\ec{escape}{empty}{10}
\ec{darkness}{empty}{40}\ec{darkness}{money}{5}\ec{darkness}{water}{40}\ec{water}{falling}{65}\ec{darkness}{walking}{5}
\ec{darkness}{dog}{6}\ec{darkness}{horror}{5}\ec{empty}{dog}{5}\ec{dog}{water}{8}\ec{dog}{falling}{15}
\ec{dog}{stress}{6}\ec{hurry}{walking}{10}\ec{hurry}{stuck}{8}\ec{stuck}{horror}{20}\ec{walking}{falling}{6}
\ec{walking}{dog}{6}\ec{horror}{return}{5}\ec{stress}{return}{8}\ec{stress}{failure}{10}\ec{return}{home}{95}
\ec{return}{lockdown}{10}\ec{return}{missing}{25}\ec{return}{obstacle}{10}\ec{return}{travel}{8}\ec{home}{obstacle}{25}
\ec{home}{lockdown}{5}\ec{home}{travel}{8}
\ec{death}{lovedone}{10}\ec{care}{mother}{28}\ec{mother}{child}{6}\ec{child}{detached}{6}\ec{threat}{escape}{8}
\ec{exspouse}{past}{15}\ec{past}{acquaintance}{75}\ec{money}{spouse}{8}\ec{spouse}{highriskgroup}{8}
\ec{highriskgroup}{restriction}{12}\ec{restriction}{crowd}{12}\ec{crowd}{distancing}{8}\ec{crowd}{disregard}{12}
\ec{crowd}{toilet}{12}\ec{toilet}{obstacle}{6}\ec{obstacle}{travel}{6}\ec{travel}{lost}{6}\ec{lost}{city}{8}\ec{city}{organizing}{10}
\end{pgfonlayer}
% ---- panel C legend
\node[lab,anchor=west] (cLegC) at (2174,2824) {cluster};
\foreach \i in {1,...,11}{\node[wdot,minimum size=33pt,fill=C\i] (cLeg\i) at (2199,{2879+(\i-1)*50.5}) {};
 \node[legn] (cLegT\i) at (2240,{2879+(\i-1)*50.5}) {\i};}
\node[lab,anchor=west] (cLegR) at (2174,3448) {correlation};
\draw[ed=8] (2179,3502) -- (2219,3502); \node[legn] (cLegR1) at (2240,3502) {0.3};
\draw[ed=30] (2179,3554) -- (2219,3554); \node[legn] (cLegR2) at (2240,3554) {0.4};
\draw[ed=50] (2179,3605) -- (2219,3605); \node[legn] (cLegR3) at (2240,3605) {0.5};
\draw[ed=75] (2179,3655) -- (2219,3655); \node[legn] (cLegR4) at (2240,3655) {0.6};
\draw[ed=95] (2179,3706) -- (2219,3706); \node[legn] (cLegR5) at (2240,3706) {0.7};
% ---- all word labels on top
\Labs
% ---- leader lines
\lda{past}{1162}{269}\lda{car}{1380}{222}\lda{visit}{1436}{375}\lda{bus}{1325}{488}
\lda{leg}{989}{656}\lda{fear}{93}{839}\lda{fire}{540}{983}\lda{help}{993}{1039}
\lda{running}{836}{1366}\lda{shooting}{1394}{1590}
\ldb{fire}{3683}{179}\ldb{car}{3930}{189}\ldb{lost}{3758}{806}\ldb{visit}{4122}{780}
\ldb{mall}{4017}{984}\ldb{chaos}{3832}{1053}\ldb{homeoffice}{3422}{1448}\ldb{search}{3504}{1515}
\ldb{doctor}{3617}{1536}\ldb{water}{3759}{1512}\ldb{grandchild}{3788}{1573}\ldb{war}{3954}{1223}
\ldb{cry}{4028}{1560}\ldb{past}{4693}{1090}
\ldc{city}{1517}{4062}
\end{tikzpicture}
\end{document}
